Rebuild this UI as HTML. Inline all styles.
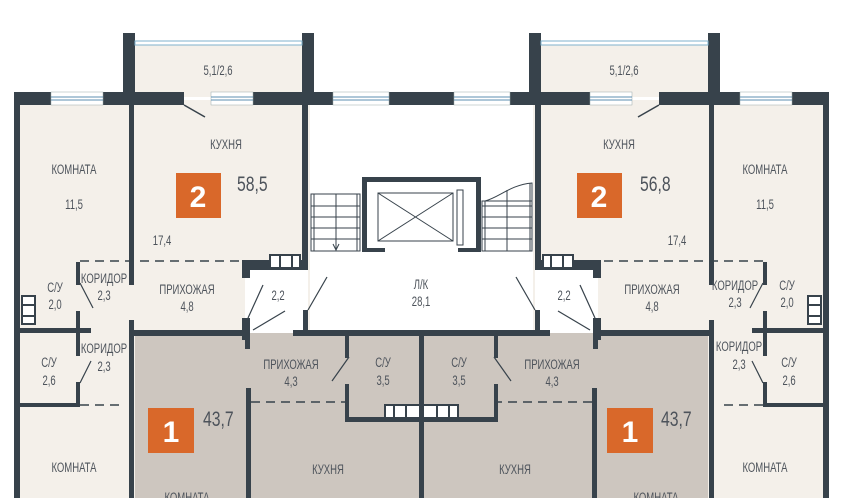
<!DOCTYPE html>
<html><head><meta charset="utf-8"><style>
html,body{margin:0;padding:0;background:#fff;width:845px;height:498px;overflow:hidden}
svg{display:block}
text{font-family:"Liberation Sans Narrow","Liberation Sans",sans-serif;fill:#4d535b;font-size:14px;text-anchor:middle}
.l text{transform:scaleX(.68);transform-box:fill-box;transform-origin:center}
.big{font-size:21px;transform:scaleX(.75);transform-box:fill-box;transform-origin:left center}
.bd{fill:#fff;font-size:30px;font-weight:bold}
</style></head><body>
<svg width="845" height="498" viewBox="0 0 845 498" xmlns="http://www.w3.org/2000/svg">
<defs>
<g id="half">
  <rect x="135" y="42" width="170" height="55" fill="#f4f0ea"/>
  <rect x="20" y="100" width="290" height="232" fill="#f4f0ea"/>
  <rect x="245" y="262" width="63" height="70" fill="#fff"/>
  <rect x="20" y="332" width="115" height="166" fill="#f4f0ea"/>
  <rect x="135" y="333" width="287" height="165" fill="#cdc6bf"/>
  <rect x="123" y="33" width="12" height="70" fill="#37424b"/>
  <rect x="302" y="33" width="12" height="70" fill="#37424b"/>
  <rect x="135" y="41" width="167" height="4" fill="#fff" stroke="#7fb2cc" stroke-width="1"/>
  <rect x="14" y="92" width="170" height="13" fill="#37424b"/>
  <rect x="211" y="92" width="211" height="13" fill="#37424b"/>
  <rect x="51" y="92" width="52" height="13" fill="#fff" stroke="#9aa" stroke-width=".5"/>
  <line x1="51" y1="97" x2="103" y2="97" stroke="#5c8fb0" stroke-width="1"/><line x1="51" y1="100" x2="103" y2="100" stroke="#5c8fb0" stroke-width="1"/>
  <rect x="211" y="92" width="42" height="13" fill="#fff" stroke="#9aa" stroke-width=".5"/>
  <line x1="211" y1="97" x2="253" y2="97" stroke="#5c8fb0"/><line x1="211" y1="100" x2="253" y2="100" stroke="#5c8fb0"/>
  <rect x="333" y="92" width="56" height="13" fill="#fff" stroke="#9aa" stroke-width=".5"/>
  <line x1="333" y1="97" x2="389" y2="97" stroke="#5c8fb0"/><line x1="333" y1="100" x2="389" y2="100" stroke="#5c8fb0"/>
  <line x1="184" y1="105" x2="205" y2="117" stroke="#37424b" stroke-width="1.5"/>
  <rect x="14" y="92" width="6" height="406" fill="#37424b"/>
  <rect x="129" y="105" width="5" height="180" fill="#37424b"/>
  <rect x="129" y="320" width="5" height="178" fill="#37424b"/>
  <rect x="302" y="105" width="6" height="165" fill="#37424b"/>
  <rect x="242" y="260" width="8" height="18" fill="#37424b"/>
  <rect x="242" y="260" width="66" height="10" fill="#37424b"/>
  <rect x="270" y="255" width="30" height="13" fill="#fff" stroke="#37424b" stroke-width="2"/>
  <line x1="280" y1="255" x2="280" y2="268" stroke="#37424b" stroke-width="2"/><line x1="292" y1="255" x2="292" y2="268" stroke="#37424b" stroke-width="2"/>
  <line x1="80" y1="261" x2="240" y2="261" stroke="#37424b" stroke-width="1.5" stroke-dasharray="9,6"/>
  <rect x="76" y="262" width="4" height="23" fill="#37424b"/>
  <rect x="76" y="311" width="4" height="45" fill="#37424b"/>
  <rect x="20" y="328" width="71" height="5" fill="#37424b"/>
  <rect x="22" y="296" width="13" height="28" fill="#fff" stroke="#37424b" stroke-width="2"/>
  <line x1="22" y1="305" x2="35" y2="305" stroke="#37424b" stroke-width="2"/><line x1="22" y1="316" x2="35" y2="316" stroke="#37424b" stroke-width="2"/>
  <line x1="80" y1="283" x2="93" y2="308" stroke="#37424b" stroke-width="1.2"/>
  <line x1="80" y1="383" x2="91" y2="361" stroke="#37424b" stroke-width="1.2"/>
  <rect x="76" y="382" width="4" height="24" fill="#37424b"/>
  <rect x="20" y="403" width="60" height="4" fill="#37424b"/>
  <line x1="80" y1="405" x2="125" y2="405" stroke="#37424b" stroke-width="1.5" stroke-dasharray="9,6"/>
  <rect x="130" y="330" width="120" height="6" fill="#37424b"/>
  <rect x="293" y="330" width="129" height="6" fill="#37424b"/>
  <rect x="242" y="318" width="8" height="22" fill="#37424b"/>
  <rect x="303" y="310" width="5" height="22" fill="#37424b"/>
  <line x1="248" y1="318" x2="263" y2="285" stroke="#37424b" stroke-width="1.2"/>
  <line x1="253" y1="330" x2="285" y2="311" stroke="#37424b" stroke-width="1.2"/>
  <line x1="308" y1="310" x2="327" y2="277" stroke="#37424b" stroke-width="1.2"/>
  <rect x="245" y="333" width="5" height="16" fill="#37424b"/>
  <rect x="246" y="388" width="5" height="110" fill="#37424b"/>
  <line x1="251" y1="402" x2="345" y2="402" stroke="#37424b" stroke-width="1.5" stroke-dasharray="9,6"/>
  <rect x="345" y="335" width="4" height="23" fill="#37424b"/>
  <rect x="345" y="384" width="4" height="38" fill="#37424b"/>
  <line x1="349" y1="357" x2="332" y2="381" stroke="#37424b" stroke-width="1.2"/>
  <rect x="345" y="417" width="77" height="5" fill="#37424b"/>
  <rect x="385" y="405" width="37" height="13" fill="#fff" stroke="#37424b" stroke-width="2"/>
  <line x1="394" y1="405" x2="394" y2="418" stroke="#37424b" stroke-width="2"/><line x1="406" y1="405" x2="406" y2="418" stroke="#37424b" stroke-width="2"/>
  <rect x="419" y="335" width="3" height="163" fill="#37424b"/>
  <rect x="362" y="177" width="60" height="5" fill="#37424b"/>
  <rect x="362" y="177" width="5" height="75" fill="#37424b"/>
  <rect x="362" y="248" width="23" height="4" fill="#37424b"/>
</g>
</defs>
<use href="#half"/>
<use href="#half" transform="translate(843,0) scale(-1,1)"/>
<rect x="378" y="193" width="75" height="48" fill="none" stroke="#37424b" stroke-width="1"/>
<line x1="378" y1="193" x2="453" y2="241" stroke="#37424b"/><line x1="378" y1="241" x2="453" y2="193" stroke="#37424b"/>
<rect x="457" y="190" width="6" height="55" fill="#fff" stroke="#37424b"/>
<g stroke="#37424b" stroke-width="1" fill="none">
<rect x="311" y="194" width="49" height="57"/>
<line x1="314" y1="194" x2="314" y2="251"/><line x1="336" y1="194" x2="336" y2="251"/><line x1="357" y1="194" x2="357" y2="251"/>
<line x1="311" y1="206" x2="360" y2="206"/><line x1="311" y1="217" x2="360" y2="217"/><line x1="311" y1="228" x2="360" y2="228"/><line x1="311" y1="239" x2="360" y2="239"/>
<polyline points="333,244 336,250 339,244"/>
<rect x="482" y="201" width="50" height="50"/>
<path d="M485,201 C500,197 510,185 532,183 L532,201"/>
<line x1="485" y1="201" x2="485" y2="251"/><line x1="507" y1="190" x2="507" y2="251"/><line x1="530" y1="183" x2="530" y2="251"/>
<line x1="482" y1="206" x2="532" y2="206"/><line x1="482" y1="217" x2="532" y2="217"/><line x1="482" y1="228" x2="532" y2="228"/><line x1="482" y1="239" x2="532" y2="239"/>
</g>
<rect x="176" y="173" width="45" height="45" fill="#d9682a"/><text class="bd" x="198" y="207">2</text>
<rect x="577" y="173" width="45" height="45" fill="#d9682a"/><text class="bd" x="599" y="207">2</text>
<rect x="148" y="408" width="46" height="45" fill="#d9682a"/><text class="bd" x="171" y="442">1</text>
<rect x="607" y="408" width="46" height="45" fill="#d9682a"/><text class="bd" x="630" y="442">1</text>
<text class="big" x="237" y="191" style="text-anchor:start">58,5</text>
<text class="big" x="640" y="191" style="text-anchor:start">56,8</text>
<text class="big" x="203" y="426" style="text-anchor:start">43,7</text>
<text class="big" x="661" y="426" style="text-anchor:start">43,7</text>
<g class="l">
<text x="218" y="75">5,1/2,6</text><text x="624" y="75">5,1/2,6</text>
<text x="226" y="149">КУХНЯ</text><text x="619" y="149">КУХНЯ</text>
<text x="74" y="174">КОМНАТА</text><text x="74" y="209">11,5</text>
<text x="765" y="174">КОМНАТА</text><text x="765" y="209">11,5</text>
<text x="162" y="245">17,4</text><text x="677" y="245">17,4</text>
<text x="55" y="292">С/У</text><text x="55" y="309">2,0</text>
<text x="104" y="283">КОРИДОР</text><text x="104" y="300">2,3</text>
<text x="187" y="294">ПРИХОЖАЯ</text><text x="187" y="311">4,8</text>
<text x="278" y="300">2,2</text><text x="564" y="300">2,2</text>
<text x="421" y="289">Л/К</text><text x="421" y="306">28,1</text>
<text x="652" y="294">ПРИХОЖАЯ</text><text x="652" y="311">4,8</text>
<text x="735" y="290">КОРИДОР</text><text x="735" y="307">2,3</text>
<text x="787" y="290">С/У</text><text x="787" y="307">2,0</text>
<text x="49" y="367">С/У</text><text x="49" y="385">2,6</text>
<text x="104" y="353">КОРИДОР</text><text x="104" y="371">2,3</text>
<text x="739" y="351">КОРИДОР</text><text x="739" y="369">2,3</text>
<text x="789" y="367">С/У</text><text x="789" y="385">2,6</text>
<text x="291" y="369">ПРИХОЖАЯ</text><text x="291" y="386">4,3</text>
<text x="383" y="367">С/У</text><text x="383" y="385">3,5</text>
<text x="459" y="367">С/У</text><text x="459" y="385">3,5</text>
<text x="552" y="369">ПРИХОЖАЯ</text><text x="552" y="386">4,3</text>
<text x="74" y="472">КОМНАТА</text><text x="765" y="472">КОМНАТА</text>
<text x="328" y="474">КУХНЯ</text><text x="515" y="474">КУХНЯ</text>
<text x="187" y="502">КОМНАТА</text><text x="656" y="502">КОМНАТА</text>
</g>
</svg>
</body></html>
